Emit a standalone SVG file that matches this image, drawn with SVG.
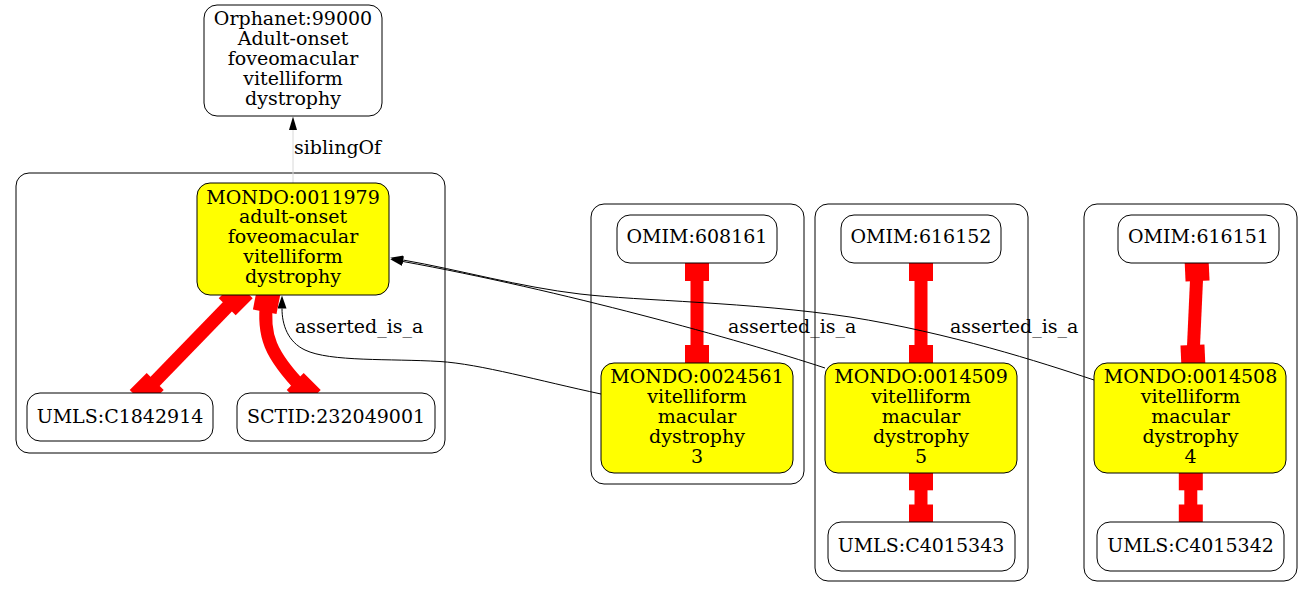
<svg xmlns="http://www.w3.org/2000/svg" xmlns:xlink="http://www.w3.org/1999/xlink" width="1313" height="597" viewBox="0 0 1313 597">
<style>
  .cl { fill: none; stroke: #000; stroke-width: 1; }
  .nd { fill: #fff; stroke: #000; stroke-width: 1; }
  .hl { fill: #ffff00; stroke: #000; stroke-width: 1; }
  text { font-family: "DejaVu Serif", "Liberation Serif", serif; font-size: 19px; fill: #000; }
  .c { text-anchor: middle; }
  .red { fill: none; stroke: #ff0000; stroke-width: 13; }
  .blk { fill: none; stroke: #000; stroke-width: 1; }
  .sib { fill: none; stroke: #d8d8d8; stroke-width: 1; }
  .bx { fill: #ff0000; }
</style>
<defs>
  <rect id="bx" class="bx" x="-12" y="-12" width="24" height="24"/>
  <marker id="arr" viewBox="0 0 13 9" refX="0" refY="4.5" markerWidth="13" markerHeight="9" markerUnits="userSpaceOnUse" orient="auto">
    <path d="M0,0 L13,4.5 L0,9 z" fill="#000"/>
  </marker>
</defs>
<rect width="1313" height="597" fill="#fff"/>

<g id="clusters">
  <rect id="cluster1" class="cl" x="16" y="173" width="429" height="280" rx="13"/>
  <rect id="cluster2" class="cl" x="591" y="204" width="213" height="280" rx="13"/>
  <rect id="cluster3" class="cl" x="815" y="204" width="213" height="377" rx="13"/>
  <rect id="cluster4" class="cl" x="1084" y="204" width="213" height="377" rx="13"/>
</g>

<g id="connectors">
  <!-- siblingOf -->
  <path class="sib" d="M293,183 L293,130"/>
  <path d="M293,116.5 L297,130 L289,130 z" fill="#000"/>
  <text x="294" y="154">siblingOf</text>

  <!-- red xref edges -->
  <line class="red" x1="235.7" y1="298.3" x2="146.7" y2="390"/>
  <use xlink:href="#bx" transform="translate(235.7,298.3) rotate(45)"/>
  <use xlink:href="#bx" transform="translate(146.7,390) rotate(45)"/>

  <path class="red" d="M267,300 C262,335 270,355 304,390"/>
  <use xlink:href="#bx" transform="translate(267,300) rotate(11)"/>
  <use xlink:href="#bx" transform="translate(303.7,390) rotate(45)"/>

  <line class="red" x1="697" y1="269" x2="697" y2="357"/>
  <use xlink:href="#bx" transform="translate(697,269)"/>
  <use xlink:href="#bx" transform="translate(697,357)"/>

  <line class="red" x1="921" y1="269" x2="921" y2="357"/>
  <use xlink:href="#bx" transform="translate(921,269)"/>
  <use xlink:href="#bx" transform="translate(921,357)"/>

  <line class="red" x1="921" y1="478" x2="921" y2="516.5"/>
  <use xlink:href="#bx" transform="translate(921,478.3)"/>
  <use xlink:href="#bx" transform="translate(921,516.5)"/>

  <line class="red" x1="1197" y1="269" x2="1193" y2="357"/>
  <use xlink:href="#bx" transform="translate(1197,269) rotate(-2.6)"/>
  <use xlink:href="#bx" transform="translate(1193,357) rotate(-2.6)"/>

  <line class="red" x1="1190.8" y1="478" x2="1190.8" y2="516.5"/>
  <use xlink:href="#bx" transform="translate(1190.8,478.3)"/>
  <use xlink:href="#bx" transform="translate(1190.8,516.5)"/>

  <!-- asserted_is_a edges -->
  <path class="blk" marker-end="url(#arr)" d="M601,394 C540,381 480,364 440,361.5 C390,358.5 330,362 305,350 C288,342 282,325 282,308.5"/>
  <text x="295" y="333">asserted_is_a</text>

  <path class="blk" marker-end="url(#arr)" d="M825,368 C740,340 560,290 403,261.5"/>
  <text x="728" y="333">asserted_is_a</text>

  <path class="blk" marker-end="url(#arr)" d="M1094,380 C1040,362 950,333 850,317 C750,302 640,301 580,294 C520,287 460,270 403,260"/>
  <text x="950" y="333">asserted_is_a</text>
</g>

<g id="Orphanet_99000">
  <rect class="nd" x="204" y="5" width="178" height="111" rx="13"/>
  <text class="c"><tspan x="293" y="25.3">Orphanet:99000</tspan><tspan x="293" y="45.1">Adult-onset</tspan><tspan x="293" y="64.9">foveomacular</tspan><tspan x="293" y="84.7">vitelliform</tspan><tspan x="293" y="104.5">dystrophy</tspan></text>
</g>

<g id="MONDO_0011979">
  <rect class="hl" x="197" y="183" width="192" height="112" rx="13"/>
  <text class="c"><tspan x="293" y="203.5">MONDO:0011979</tspan><tspan x="293" y="223.3">adult-onset</tspan><tspan x="293" y="243.1">foveomacular</tspan><tspan x="293" y="262.9">vitelliform</tspan><tspan x="293" y="282.7">dystrophy</tspan></text>
</g>

<g id="UMLS_C1842914">
  <rect class="nd" x="27" y="393" width="186" height="48" rx="13"/>
  <text class="c" x="120" y="423.3">UMLS:C1842914</text>
</g>

<g id="SCTID_232049001">
  <rect class="nd" x="237" y="393" width="198" height="48" rx="13"/>
  <text class="c" x="336" y="423.3">SCTID:232049001</text>
</g>

<g id="OMIM_608161">
  <rect class="nd" x="617" y="215" width="160" height="48" rx="13"/>
  <text class="c" x="697" y="243.3">OMIM:608161</text>
</g>

<g id="MONDO_0024561">
  <rect class="hl" x="601" y="363" width="192" height="110" rx="13"/>
  <text class="c"><tspan x="697" y="383.3">MONDO:0024561</tspan><tspan x="697" y="403.1">vitelliform</tspan><tspan x="697" y="422.9">macular</tspan><tspan x="697" y="442.7">dystrophy</tspan><tspan x="697" y="462.5">3</tspan></text>
</g>

<g id="OMIM_616152">
  <rect class="nd" x="841" y="215" width="160" height="48" rx="13"/>
  <text class="c" x="921" y="243.3">OMIM:616152</text>
</g>

<g id="MONDO_0014509">
  <rect class="hl" x="825" y="363" width="192" height="110" rx="13"/>
  <text class="c"><tspan x="921" y="383.3">MONDO:0014509</tspan><tspan x="921" y="403.1">vitelliform</tspan><tspan x="921" y="422.9">macular</tspan><tspan x="921" y="442.7">dystrophy</tspan><tspan x="921" y="462.5">5</tspan></text>
</g>

<g id="UMLS_C4015343">
  <rect class="nd" x="828" y="522" width="187" height="49" rx="13"/>
  <text class="c" x="921" y="551.7">UMLS:C4015343</text>
</g>

<g id="OMIM_616151">
  <rect class="nd" x="1118" y="215" width="161" height="48" rx="13"/>
  <text class="c" x="1198.5" y="243.3">OMIM:616151</text>
</g>

<g id="MONDO_0014508">
  <rect class="hl" x="1094" y="363" width="192" height="110" rx="13"/>
  <text class="c"><tspan x="1190.5" y="383.3">MONDO:0014508</tspan><tspan x="1190.5" y="403.1">vitelliform</tspan><tspan x="1190.5" y="422.9">macular</tspan><tspan x="1190.5" y="442.7">dystrophy</tspan><tspan x="1190.5" y="462.5">4</tspan></text>
</g>

<g id="UMLS_C4015342">
  <rect class="nd" x="1097" y="522" width="187" height="49" rx="13"/>
  <text class="c" x="1190.5" y="551.7">UMLS:C4015342</text>
</g>
</svg>
